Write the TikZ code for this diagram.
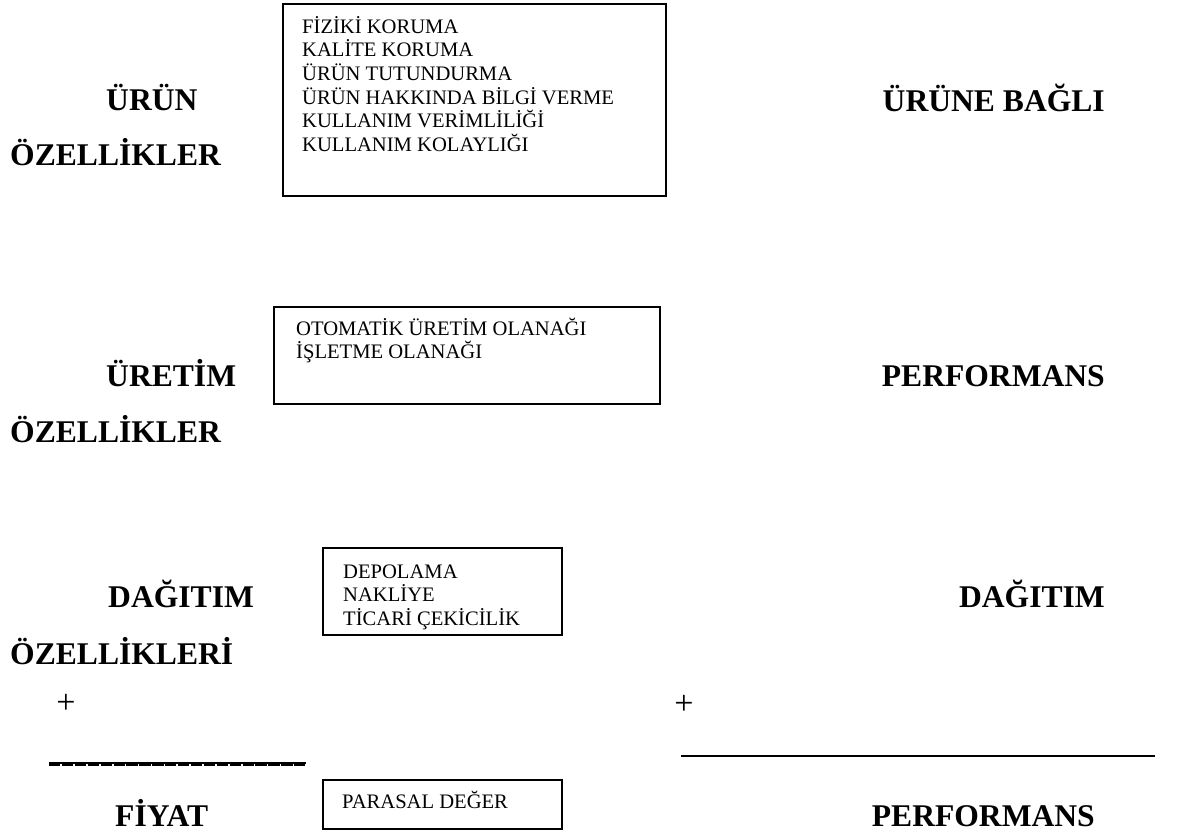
\documentclass[tikz,border=0pt]{standalone}
\usepackage{fontspec}
\setmainfont{Liberation Serif}
\tikzset{
  big/.style={inner sep=0pt, font=\fontsize{31.6}{34}\selectfont\bfseries},
  small/.style={inner sep=0pt, anchor=base west, font=\fontsize{20.6}{23.7}\selectfont},
  plus/.style={inner sep=0pt, font=\fontsize{34}{36}\selectfont},
  boxframe/.style={draw, line width=2pt, anchor=north west, inner sep=0pt},
  rule/.style={line width=2.8pt}
}
\begin{document}
\begin{tikzpicture}[x=1pt,y=-1pt]
\useasboundingbox (0,0) rectangle (1180,835);
% left labels
\node[big,anchor=base west] (l1a) at (106,110) {ÜRÜN};
\node[big,anchor=base west] (l1b) at (10,165) {ÖZELLİKLER};
\node[big,anchor=base west] (l2a) at (106,386) {ÜRETİM};
\node[big,anchor=base west] (l2b) at (10,442) {ÖZELLİKLER};
\node[big,anchor=base west] (l3a) at (108,607) {DAĞITIM};
\node[big,anchor=base west] (l3b) at (10,664) {ÖZELLİKLERİ};
\node[big,anchor=base west] (l4) at (115,826) {FİYAT};
% right labels
\node[big,anchor=base east] (r1) at (1105,111) {ÜRÜNE BAĞLI};
\node[big,anchor=base east] (r2) at (1105,386) {PERFORMANS};
\node[big,anchor=base east] (r3) at (1105,607) {DAĞITIM};
\node[big,anchor=base east] (r4) at (1095,826) {PERFORMANS};
% boxes
\node[boxframe, minimum width=383pt, minimum height=192pt] (b1) at (282,3) {};
\node[small] (b1t1) at (302,33) {FİZİKİ KORUMA};
\node[small] (b1t2) at (302,56.7) {KALİTE KORUMA};
\node[small] (b1t3) at (302,80.4) {ÜRÜN TUTUNDURMA};
\node[small] (b1t4) at (302,104.1) {ÜRÜN HAKKINDA BİLGİ VERME};
\node[small] (b1t5) at (302,127.8) {KULLANIM VERİMLİLİĞİ};
\node[small] (b1t6) at (302,151.5) {KULLANIM KOLAYLIĞI};
\node[boxframe, minimum width=386pt, minimum height=97pt] (b2) at (273,306) {};
\node[small] (b2t1) at (296,335) {OTOMATİK ÜRETİM OLANAĞI};
\node[small] (b2t2) at (296,358.7) {İŞLETME OLANAĞI};
\node[boxframe, minimum width=239pt, minimum height=87pt] (b3) at (322,547) {};
\node[small] (b3t1) at (343,578) {DEPOLAMA};
\node[small] (b3t2) at (343,601.7) {NAKLİYE};
\node[small] (b3t3) at (343,625.4) {TİCARİ ÇEKİCİLİK};
\node[boxframe, minimum width=239pt, minimum height=49pt] (b4) at (322,779) {};
\node[small] (b4t) at (342,808) {PARASAL DEĞER};
% plus signs
\node[plus] (p1) at (66,704) {+};
\node[plus] (p2) at (684,705) {+};
% rules
\coordinate (u1s) at (49,763);
\coordinate (u1e) at (306,763);
\draw[rule] (u1s) -- (u1e);
\draw[line width=1.6pt, dash pattern=on 11.3pt off 1.6pt] ([yshift=-2.2pt]u1s) -- ([yshift=-2.2pt]u1e);
\coordinate (u2s) at (681,756);
\coordinate (u2e) at (1155,756);
\draw[rule] (u2s) -- (u2e);
\end{tikzpicture}
\end{document}
